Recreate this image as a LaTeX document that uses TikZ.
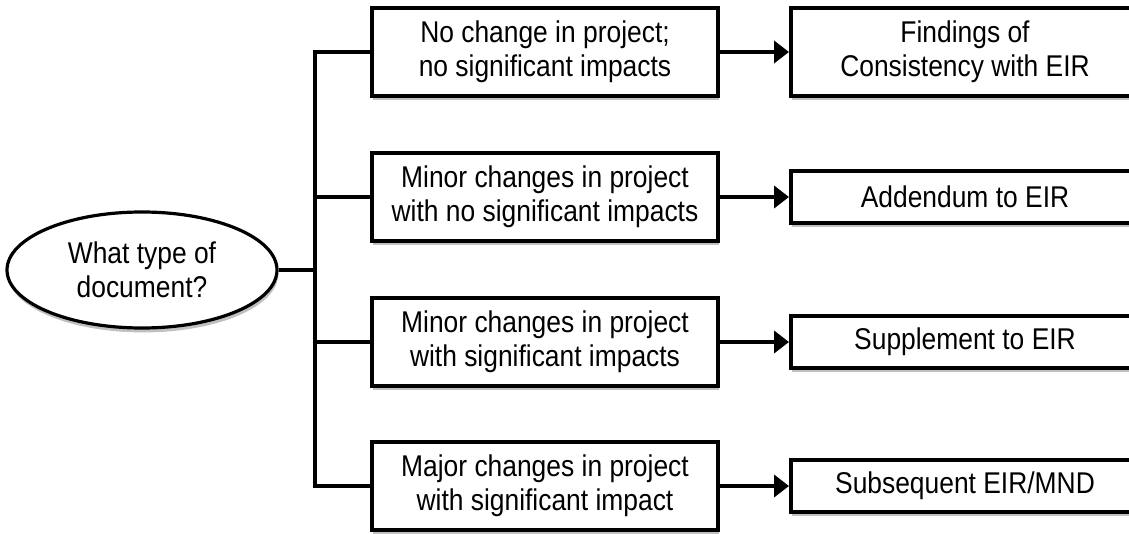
\documentclass[tikz,border=0pt]{standalone}
\usepackage{fontspec}
\setmainfont[FakeStretch=0.88]{Liberation Sans}
\usepackage{tikz}
\usetikzlibrary{arrows.meta,positioning,shapes.geometric,shadows}

\begin{document}
\begin{tikzpicture}[x=0.5pt,y=-0.5pt,
  shade/.style={drop shadow={shadow xshift=0.6pt,shadow yshift=-2.2pt,fill=black!45,opacity=.55}},
  box/.style={draw=black,line width=2pt,fill=white,align=center,minimum width=173pt,minimum height=44pt,inner sep=0pt,font=\fontsize{15}{16.8}\selectfont,shade},
  doc/.style={box,minimum width=174pt},
  ask/.style={ellipse,draw=black,line width=1.6pt,fill=white,align=center,minimum width=135pt,minimum height=58pt,inner sep=0pt,font=\fontsize{15}{16.8}\selectfont,shade},
  link/.style={line width=2pt,draw=black},
  arr/.style={link,-{Triangle[length=7.5pt,width=11pt]}}]
\useasboundingbox (0,0) rectangle (1129,534);
\node[ask] (ask) at (142,270) {What type of\\document?};
\node[box] (nochange) at (545,52) {No change in project;\\no significant impacts};
\node[box] (minornone) at (545,197) {Minor changes in project\\with no significant impacts};
\node[box] (minorsig) at (545,342) {Minor changes in project\\with significant impacts};
\node[box] (major) at (545,486) {Major changes in project\\with significant impact};
\node[doc] (findings) at (965,52) {Findings of\\Consistency with EIR};
\node[doc,minimum height=26pt] (addendum) at (965,197) {Addendum to EIR};
\node[doc,minimum height=26pt] (supplement) at (965,342) {Supplement to EIR};
\node[doc,minimum height=26pt] (subsequent) at (965,486) {Subsequent EIR/MND};
% fork from the question
\draw[link] (ask.east) -- (315,270) coordinate (fork);
\draw[link,line cap=rect] (fork |- nochange.west) -- (fork |- major.west);
\foreach \b in {nochange,minornone,minorsig,major}
  \draw[link] (fork |- \b.west) -- (\b.west);
% outcomes
\draw[arr] (nochange.east) -- (findings.west);
\draw[arr] (minornone.east) -- (addendum.west);
\draw[arr] (minorsig.east) -- (supplement.west);
\draw[arr] (major.east) -- (subsequent.west);
\end{tikzpicture}
\end{document}
